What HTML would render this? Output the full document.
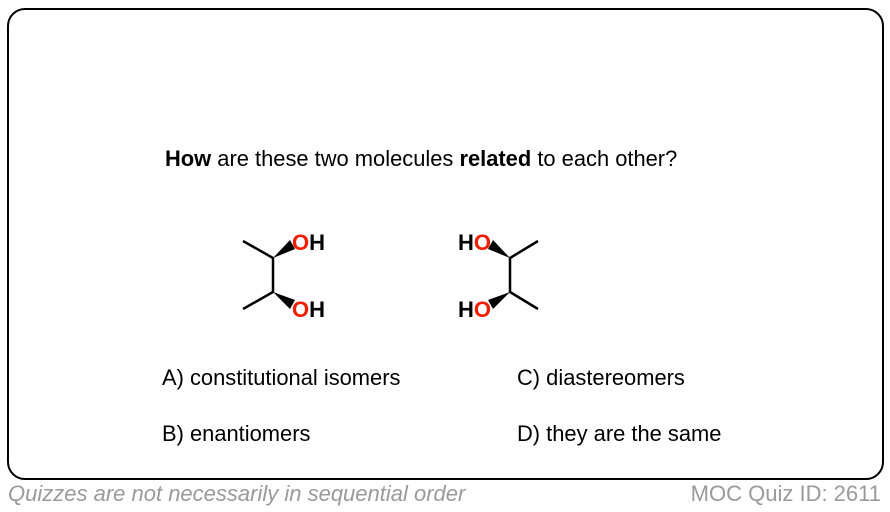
<!DOCTYPE html>
<html><head><meta charset="utf-8"><style>
body{margin:0;width:890px;height:512px;background:#fff;position:relative;font-family:"Liberation Sans",Arial,sans-serif;overflow:hidden}
.box{position:absolute;left:7px;top:8px;width:873px;height:468px;border:2.5px solid #000;border-radius:18px}
.t{position:absolute;font-size:21.9px;color:#000;white-space:nowrap}
.f{position:absolute;top:481px;font-size:22px;color:#9a9a9a;white-space:nowrap;letter-spacing:0}
</style></head><body>
<div class="box"></div>
<div class="t" style="left:165px;top:146px"><b>How</b> are these two molecules <b>related</b> to each other?</div>
<svg style="position:absolute;left:0;top:0" width="890" height="512">
<g stroke="#000" stroke-width="2.5" fill="none">
<polyline points="243,241 273,258 273,292 243,309"/>
<polyline points="538,241 510,258 510,292 538,309"/>
</g>
<g fill="#000">
<polygon points="273,258 290,240 295,249"/>
<polygon points="273,292 290,309 295,300"/>
<polygon points="510,258 493,240 488,249"/>
<polygon points="510,292 493,309 488,300"/>
</g>
<g font-family="Liberation Sans,Arial,sans-serif" font-weight="bold" font-size="22">
<text x="292" y="250" fill="#f21d00">O<tspan fill="#000">H</tspan></text>
<text x="292" y="317" fill="#f21d00">O<tspan fill="#000">H</tspan></text>
<text x="491" y="250" text-anchor="end" fill="#000">H<tspan fill="#f21d00">O</tspan></text>
<text x="491" y="317" text-anchor="end" fill="#000">H<tspan fill="#f21d00">O</tspan></text>
</g>
</svg>
<div class="t" style="left:162px;top:365px">A) constitutional isomers</div>
<div class="t" style="left:517px;top:365px">C) diastereomers</div>
<div class="t" style="left:162px;top:421px">B) enantiomers</div>
<div class="t" style="left:517px;top:421px">D) they are the same</div>
<div class="f" style="left:8px;font-style:italic">Quizzes are not necessarily in sequential order</div>
<div class="f" style="right:9px">MOC Quiz ID: 2611</div>
</body></html>
